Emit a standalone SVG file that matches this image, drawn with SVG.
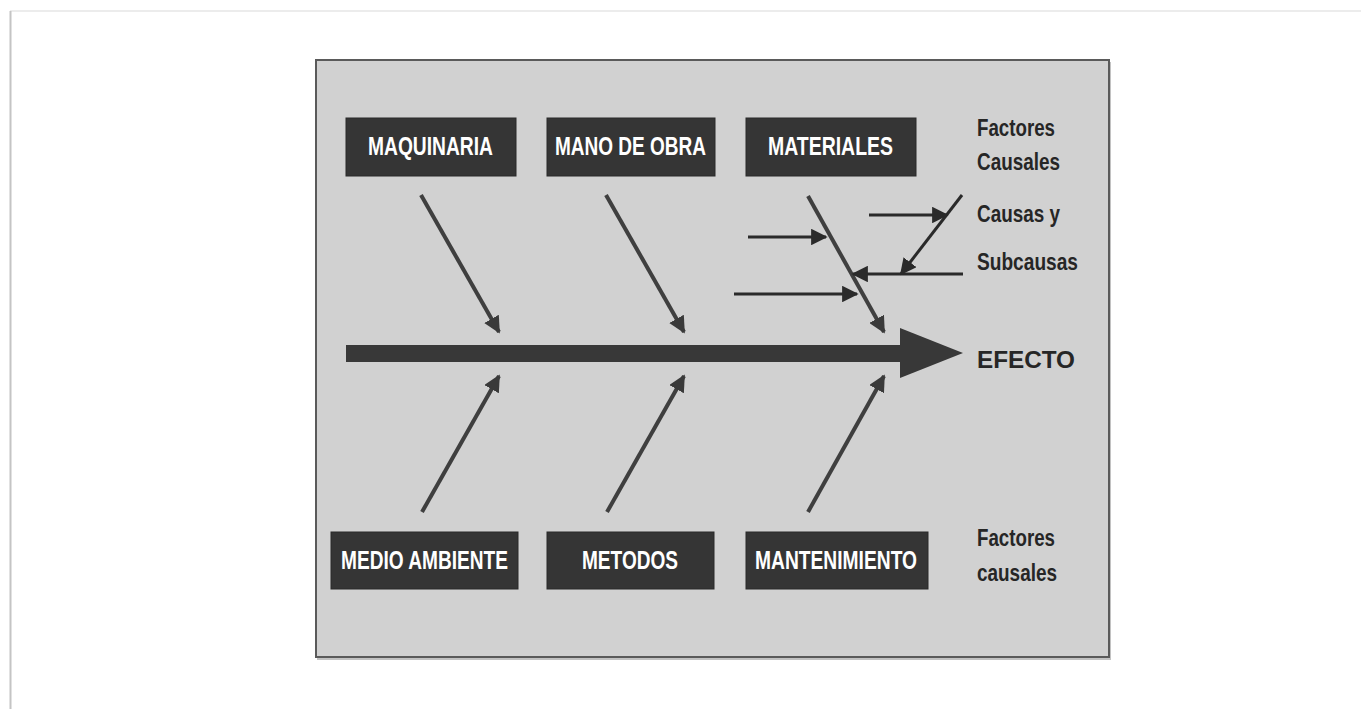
<svg xmlns="http://www.w3.org/2000/svg" width="1361" height="709" viewBox="0 0 1361 709">
  <defs>
    <marker id="head" viewBox="0 0 10 10" refX="9" refY="5" markerWidth="4.2" markerHeight="4.2" markerUnits="strokeWidth" orient="auto">
      <path d="M0,0 L10,5 L0,10 Z" fill="#3a3a3a"/>
    </marker>
    <marker id="headThin" viewBox="0 0 10 10" refX="9" refY="5" markerWidth="5.5" markerHeight="5.5" markerUnits="strokeWidth" orient="auto">
      <path d="M0,0 L10,5 L0,10 Z" fill="#2a2a2a"/>
    </marker>
  </defs>
  <style>
    .page { fill: #ffffff; }
    .panel { fill: #d1d1d1; stroke: #5a5a5a; stroke-width: 2; }
    .box { fill: #353535; stroke: #2a2a2a; stroke-width: 1; }
    .boxText { font-family: "Liberation Sans Narrow", "Liberation Sans", Arial, sans-serif; font-weight: bold; font-size: 26px; fill: #ffffff; }
    .label { font-family: "Liberation Sans Narrow", "Liberation Sans", Arial, sans-serif; font-weight: bold; font-size: 24px; fill: #262626; }
    .bone { stroke: #3f3f3f; stroke-width: 4; fill: none; marker-end: url(#head); }
    .sub { stroke: #2a2a2a; stroke-width: 3; fill: none; marker-end: url(#headThin); }
  </style>

  <!-- page -->
  <rect class="page" x="0" y="0" width="1361" height="709"/>
  <line x1="10" y1="11" x2="1361" y2="11" stroke="#ececec" stroke-width="2"/>
  <line x1="10.5" y1="11" x2="10.5" y2="709" stroke="#c4c4c4" stroke-width="2"/>

  <!-- panel -->
  <rect x="317" y="62" width="794" height="598" fill="#9a9a9a" opacity="0.6"/>
  <rect class="panel" x="316" y="60" width="793" height="597"/>

  <!-- connectors -->
  <g id="connectors">
    <!-- spine -->
    <rect x="346" y="345" width="556" height="17" fill="#383838"/>
    <polygon points="900,328 963,353 900,378" fill="#383838"/>
    <!-- upper bones -->
    <line class="bone" x1="421" y1="195" x2="499" y2="332"/>
    <line class="bone" x1="606" y1="195" x2="684" y2="332"/>
    <line class="bone" x1="808" y1="196" x2="884" y2="332" stroke-width="5"/>
    <!-- lower bones -->
    <line class="bone" x1="422" y1="512" x2="499" y2="376"/>
    <line class="bone" x1="607" y1="512" x2="684" y2="376"/>
    <line class="bone" x1="808" y1="512" x2="884" y2="376"/>
    <!-- causes and sub-causes -->
    <line class="sub" x1="748" y1="237" x2="826" y2="237"/>
    <line class="sub" x1="734" y1="294" x2="857" y2="294"/>
    <line class="sub" x1="869" y1="215" x2="947" y2="215"/>
    <line class="sub" x1="962" y1="195" x2="901" y2="274"/>
    <line class="sub" x1="963" y1="274" x2="853" y2="274"/>
  </g>

  <!-- top factors -->
  <g id="maquinaria">
    <rect class="box" x="346" y="118" width="170" height="58"/>
    <text class="boxText" x="368" y="155" textLength="125" lengthAdjust="spacingAndGlyphs">MAQUINARIA</text>
  </g>
  <g id="mano-de-obra">
    <rect class="box" x="547" y="118" width="168" height="58"/>
    <text class="boxText" x="555" y="155" textLength="151" lengthAdjust="spacingAndGlyphs">MANO DE OBRA</text>
  </g>
  <g id="materiales">
    <rect class="box" x="746" y="118" width="170" height="58"/>
    <text class="boxText" x="768" y="155" textLength="125" lengthAdjust="spacingAndGlyphs">MATERIALES</text>
  </g>

  <!-- bottom factors -->
  <g id="medio-ambiente">
    <rect class="box" x="331" y="532" width="187" height="57"/>
    <text class="boxText" x="341" y="569" textLength="167" lengthAdjust="spacingAndGlyphs">MEDIO AMBIENTE</text>
  </g>
  <g id="metodos">
    <rect class="box" x="547" y="532" width="167" height="57"/>
    <text class="boxText" x="582" y="569" textLength="96" lengthAdjust="spacingAndGlyphs">METODOS</text>
  </g>
  <g id="mantenimiento">
    <rect class="box" x="746" y="532" width="182" height="57"/>
    <text class="boxText" x="755" y="569" textLength="162" lengthAdjust="spacingAndGlyphs">MANTENIMIENTO</text>
  </g>

  <!-- side labels -->
  <g id="labels">
    <text class="label" x="977" y="136" textLength="78" lengthAdjust="spacingAndGlyphs">Factores</text>
    <text class="label" x="977" y="170" textLength="83" lengthAdjust="spacingAndGlyphs">Causales</text>
    <text class="label" x="977" y="222" textLength="83" lengthAdjust="spacingAndGlyphs">Causas y</text>
    <text class="label" x="977" y="270" textLength="101" lengthAdjust="spacingAndGlyphs">Subcausas</text>
    <text class="label" x="977" y="368" font-size="33" textLength="98" lengthAdjust="spacingAndGlyphs">EFECTO</text>
    <text class="label" x="977" y="546" textLength="78" lengthAdjust="spacingAndGlyphs">Factores</text>
    <text class="label" x="977" y="581" textLength="80" lengthAdjust="spacingAndGlyphs">causales</text>
  </g>
</svg>
